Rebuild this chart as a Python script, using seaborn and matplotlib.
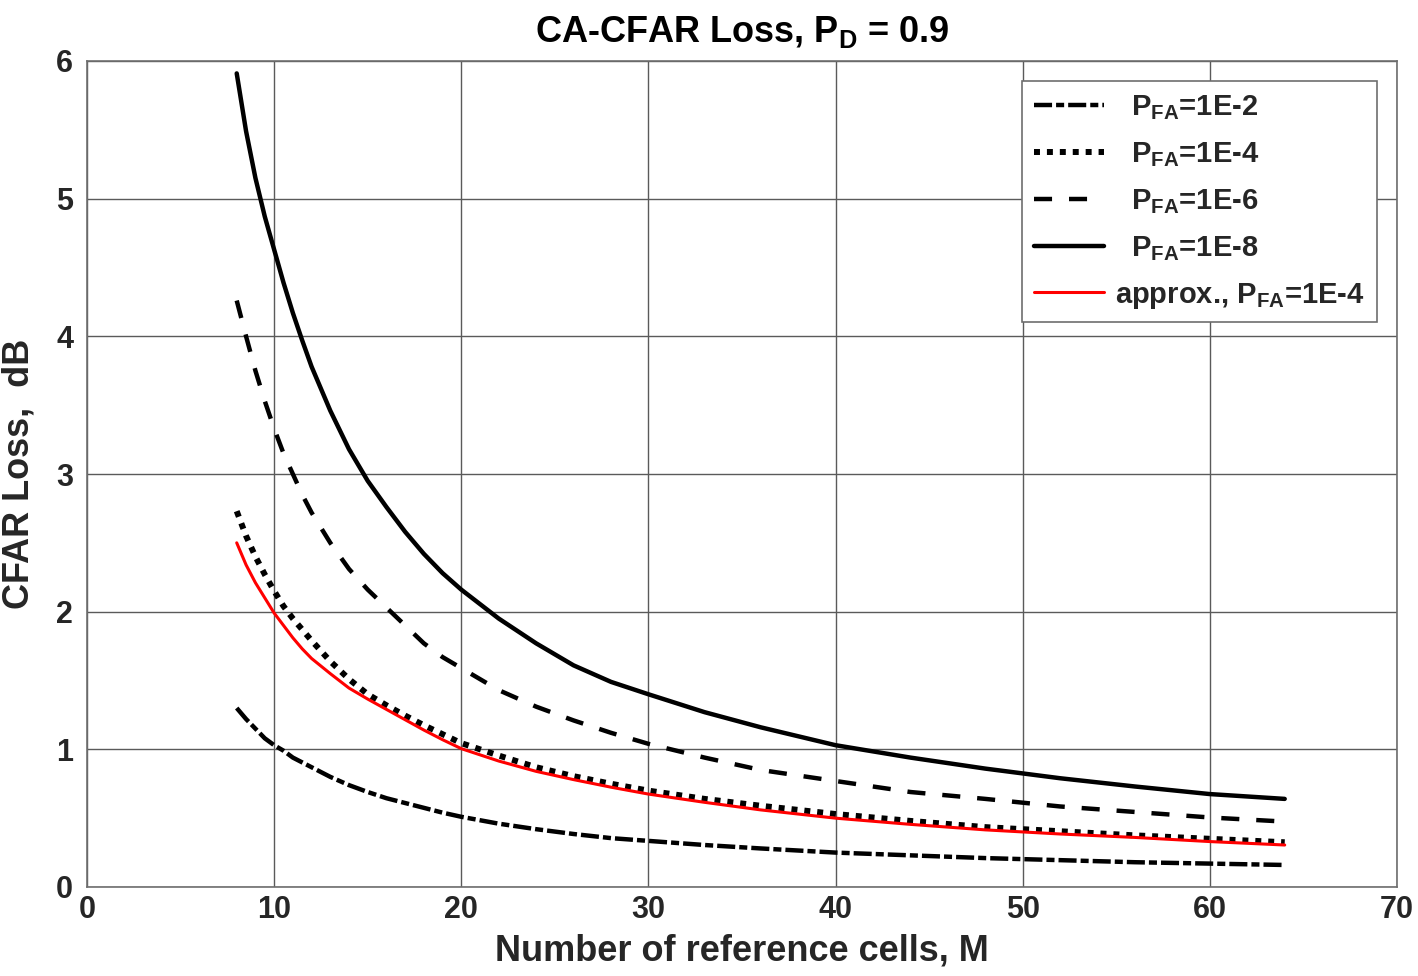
import matplotlib
matplotlib.use("Agg")
import matplotlib.pyplot as plt
import seaborn as sns
import pandas as pd

# Number of reference cells
M = [8, 8.5, 9, 9.5, 10, 10.5, 11, 11.5, 12, 13, 14, 15, 16, 17, 18, 19, 20,
     22, 24, 26, 28, 30, 33, 36, 40, 44, 48, 52, 56, 60, 64]

# CFAR loss (dB)
loss_pfa_1e2 = [1.30, 1.22, 1.15, 1.08, 1.03, 0.99, 0.94, 0.905, 0.87, 0.80, 0.74,
                0.69, 0.645, 0.61, 0.575, 0.54, 0.51, 0.46, 0.42, 0.385, 0.355,
                0.335, 0.305, 0.28, 0.25, 0.23, 0.21, 0.195, 0.18, 0.17, 0.16]
loss_pfa_1e4 = [2.73, 2.55, 2.40, 2.27, 2.15, 2.04, 1.95, 1.87, 1.79, 1.64, 1.51,
                1.40, 1.32, 1.245, 1.175, 1.11, 1.045, 0.955, 0.87, 0.805, 0.75,
                0.70, 0.64, 0.59, 0.53, 0.48, 0.435, 0.405, 0.375, 0.35, 0.325]
loss_pfa_1e6 = [4.26, 4.00, 3.75, 3.53, 3.33, 3.15, 3.00, 2.85, 2.72, 2.50, 2.31,
                2.16, 2.03, 1.90, 1.77, 1.67, 1.59, 1.43, 1.31, 1.21, 1.12,
                1.04, 0.94, 0.85, 0.77, 0.69, 0.64, 0.585, 0.545, 0.505, 0.475]
loss_pfa_1e8 = [5.91, 5.49, 5.15, 4.87, 4.63, 4.39, 4.17, 3.97, 3.78, 3.46, 3.18,
                2.95, 2.76, 2.58, 2.42, 2.28, 2.16, 1.95, 1.77, 1.61, 1.49,
                1.40, 1.27, 1.16, 1.03, 0.94, 0.86, 0.79, 0.73, 0.675, 0.64]
loss_approx_1e4 = [2.50, 2.34, 2.21, 2.10, 1.99, 1.90, 1.81, 1.73, 1.66, 1.55, 1.445,
                   1.365, 1.29, 1.215, 1.14, 1.07, 1.005, 0.915, 0.84, 0.78, 0.725,
                   0.675, 0.615, 0.56, 0.50, 0.455, 0.415, 0.385, 0.36, 0.33, 0.305]

labels = [r"  $\mathbf{P_{FA}}$=1E-2", r"  $\mathbf{P_{FA}}$=1E-4",
          r"  $\mathbf{P_{FA}}$=1E-6", r"  $\mathbf{P_{FA}}$=1E-8",
          r"approx., $\mathbf{P_{FA}}$=1E-4"]
x_ticks = [0, 10, 20, 30, 40, 50, 60, 70]
y_ticks = [0, 1, 2, 3, 4, 5, 6]

sns.set_theme(style="whitegrid")
plt.rcParams["font.family"] = ["Liberation Sans", "DejaVu Sans"]
plt.rcParams["font.weight"] = "bold"
plt.rcParams["mathtext.fontset"] = "custom"
plt.rcParams["mathtext.rm"] = "Liberation Sans:bold"
plt.rcParams["mathtext.bf"] = "Liberation Sans:bold"
plt.rcParams["mathtext.it"] = "Liberation Sans:bold"
plt.rcParams["lines.scale_dashes"] = False

fig = plt.figure(figsize=(14.18, 9.76), dpi=100)
ax = fig.add_axes([87 / 1418, 1 - 887 / 976, (1397 - 87) / 1418, (887 - 61) / 976])

series = [
    (loss_pfa_1e2, labels[0], "black", 3.2, (0, (13, 2.9, 5.8, 2.9))),
    (loss_pfa_1e4, labels[1], "black", 4.3, (0, (4.3, 5.0))),
    (loss_pfa_1e6, labels[2], "black", 3.2, (0, (13, 12.2))),
    (loss_pfa_1e8, labels[3], "black", 3.2, "-"),
    (loss_approx_1e4, labels[4], "red", 2.2, "-"),
]
for vals, lab, col, lw, ls in series:
    df = pd.DataFrame({"M": M, "loss": vals})
    sns.lineplot(data=df, x="M", y="loss", ax=ax, color=col, linewidth=lw,
                 linestyle=ls, label=lab)

ax.set_xlim(0, 70)
ax.set_ylim(0, 6)
ax.set_xticks(x_ticks)
ax.set_yticks(y_ticks)
ax.tick_params(axis="x", labelsize=22, length=0, pad=6)
ax.tick_params(axis="y", labelsize=22, length=0, pad=10)
for t in ax.get_xticklabels() + ax.get_yticklabels():
    t.set_fontweight("bold")
    t.set_color("#262626")
ax.grid(True, color="#5a5a5a", linewidth=1.0)
ax.set_facecolor("white")
for s in ax.spines.values():
    s.set_visible(True)
    s.set_color("#6e6e6e")
    s.set_linewidth(1.2)

ax.set_xlabel("Number of reference cells, M", fontsize=26, fontweight="bold",
              color="#262626", labelpad=6)
ax.set_ylabel("CFAR Loss,  dB", fontsize=26, fontweight="bold",
              color="#262626", labelpad=14)
ax.set_title(r"CA-CFAR Loss, $\mathbf{P_D}$ = 0.9", fontsize=26,
             fontweight="bold", color="black", pad=14)

leg = ax.legend(loc="upper right", fontsize=21, handlelength=2.4,
                frameon=True, fancybox=False, framealpha=1,
                borderaxespad=0.7, labelspacing=0.62, borderpad=0.4,
                handletextpad=0.4)
leg.get_frame().set_edgecolor("#6e6e6e")
leg.get_frame().set_linewidth(1.2)
for t in leg.get_texts():
    t.set_fontweight("bold")

fig.savefig("out.png", dpi=100, facecolor="white")
